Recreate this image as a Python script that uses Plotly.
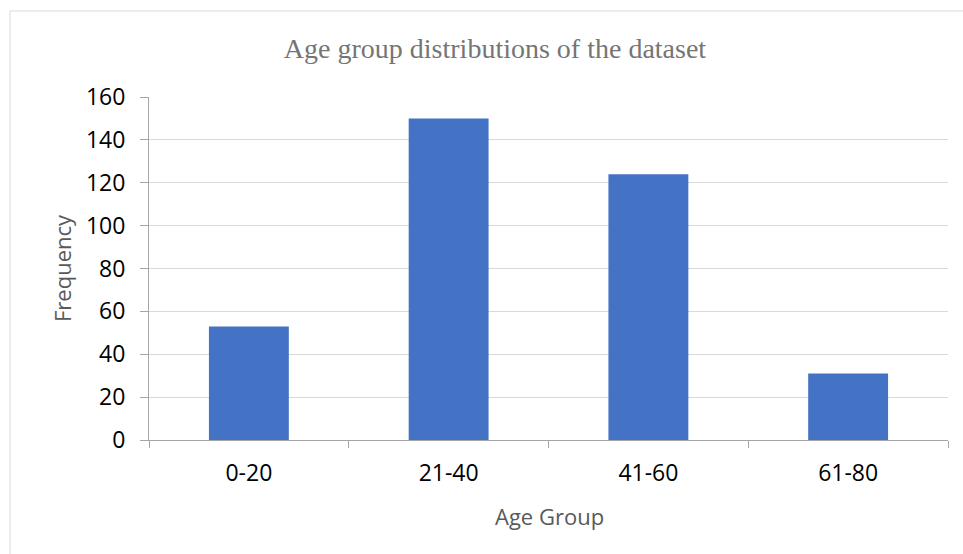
import plotly.graph_objects as go

# Age group frequencies
age_groups = ["0-20", "21-40", "41-60", "61-80"]
frequency = [53, 150, 124, 31]
y_ticks = [0, 20, 40, 60, 80, 100, 120, 140, 160]

W, H = 963, 554
L, R, T, B = 149, 15, 97, 114
pw, ph = W - L - R, H - T - B

def px_x(x):
    return (x - L) / pw

def px_y(y):
    return (H - B - y) / ph

fig = go.Figure(
    go.Bar(
        x=age_groups,
        y=frequency,
        marker=dict(color="#4472C4", line=dict(width=0)),
        width=0.4,
    )
)

fig.update_layout(
    width=W,
    height=H,
    margin=dict(l=L, r=R, t=T, b=B),
    paper_bgcolor="white",
    plot_bgcolor="white",
    showlegend=False,
    bargap=0.6,
    title=dict(
        text="Age group distributions of the dataset",
        font=dict(family="Liberation Serif", size=28, color="#757575"),
        xref="container", x=495 / W, xanchor="center",
        yref="container", y=1 - 48 / H, yanchor="middle",
    ),
    shapes=[
        dict(
            type="rect", xref="paper", yref="paper",
            x0=px_x(10), x1=px_x(W + 5), y0=px_y(H + 5), y1=px_y(11),
            line=dict(color="#d9d9d9", width=1), fillcolor="rgba(0,0,0,0)",
            layer="below",
        )
    ],
    annotations=[
        dict(
            text="Frequency", xref="paper", yref="paper",
            x=px_x(62), y=px_y(268), xanchor="center", yanchor="middle",
            textangle=-90, showarrow=False,
            font=dict(family="Open Sans", size=22, color="#595959"),
        ),
        dict(
            text="Age Group", xref="paper", yref="paper",
            x=px_x(549), y=px_y(516), xanchor="center", yanchor="middle",
            showarrow=False,
            font=dict(family="Open Sans", size=22, color="#595959"),
        ),
    ],
)

fig.update_yaxes(
    range=[0, 160],
    tickvals=y_ticks,
    showgrid=True, gridcolor="#d9d9d9", gridwidth=1,
    showline=True, linecolor="#a6a6a6", linewidth=1,
    ticks="outside", ticklen=8, tickcolor="#a6a6a6",
    ticklabelstandoff=10,
    tickfont=dict(family="Open Sans", size=23, color="black"),
    zeroline=False,
    fixedrange=True,
)

fig.update_xaxes(
    showline=True, linecolor="#a6a6a6", linewidth=1,
    ticks="outside", ticklen=7, tickcolor="#a6a6a6",
    tickson="boundaries",
    ticklabelstandoff=12,
    tickfont=dict(family="Open Sans", size=23, color="black"),
    showgrid=False,
    fixedrange=True,
)

fig.write_html("out.html", config={"displayModeBar": False})
